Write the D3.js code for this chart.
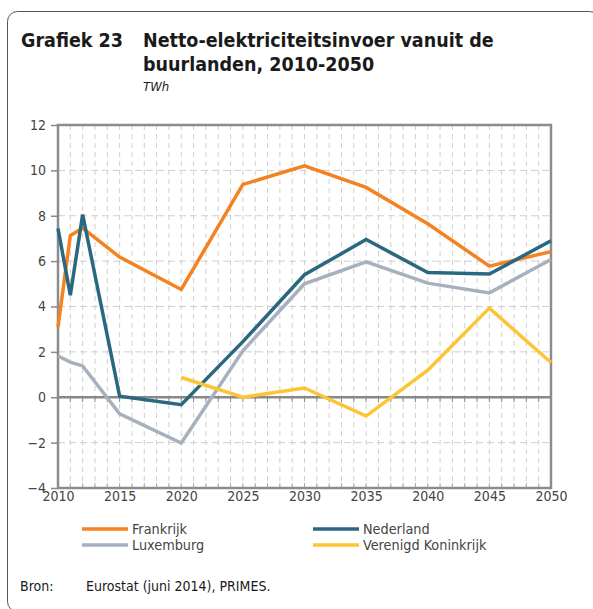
<!DOCTYPE html>
<html>
<head>
<meta charset="utf-8">
<script src="https://cdn.jsdelivr.net/npm/d3@7"></script>
<style>
  body { margin: 0; background: #fff; }
  text { font-family: "DejaVu Sans Condensed", "DejaVu Sans", sans-serif; fill: #333; }
</style>
</head>
<body>
<div id="chart"></div>
<script>
// data (TWh)
var years = [2010, 2011, 2012, 2015, 2020, 2025, 2030, 2035, 2040, 2045, 2050];
var frankrijk = [3.1, 7.13, 7.45, 6.18, 4.75, 9.38, 10.2, 9.25, 7.65, 5.78, 6.42];
var nederland = [7.44, 4.5, 8.05, 0.05, -0.33, 2.45, 5.4, 6.95, 5.5, 5.43, 6.9];
var luxemburg = [1.82, 1.55, 1.38, -0.73, -2.02, 2.05, 5.0, 5.97, 5.03, 4.6, 6.07];
var vkYears = [2020, 2025, 2030, 2035, 2040, 2045, 2050];
var verenigdKoninkrijk = [0.87, 0.0, 0.41, -0.83, 1.19, 3.93, 1.53];
var yTicks = [-4, -2, 0, 2, 4, 6, 8, 10, 12];
var xTicks = [2010, 2015, 2020, 2025, 2030, 2035, 2040, 2045, 2050];

var series = [
  { name: "Frankrijk", x: years, y: frankrijk, color: "#f58220" },
  { name: "Luxemburg", x: years, y: luxemburg, color: "#a7b1be" },
  { name: "Nederland", x: years, y: nederland, color: "#2a6880" },
  { name: "Verenigd Koninkrijk", x: vkYears, y: verenigdKoninkrijk, color: "#fdc533" }
];

var width = 593, height = 609;
var svg = d3.select("#chart").append("svg")
  .attr("width", width).attr("height", height);

// outer frame (right and bottom edges fall outside the picture)
svg.append("rect")
  .attr("x", 7.5).attr("y", 11.5)
  .attr("width", 592).attr("height", 600)
  .attr("rx", 10)
  .attr("fill", "none").attr("stroke", "#555").attr("stroke-width", 1);

// titles
var titleStyle = sel => sel.style("font-size", "19.5px").style("font-weight", "bold").style("fill", "#1a1a1a");
svg.append("text").attr("x", 21).attr("y", 47).call(titleStyle).text("Grafiek 23");
svg.append("text").attr("x", 143).attr("y", 47).call(titleStyle).text("Netto-elektriciteitsinvoer vanuit de");
svg.append("text").attr("x", 143).attr("y", 71).call(titleStyle).text("buurlanden, 2010-2050");
svg.append("text").attr("x", 143).attr("y", 91)
  .style("font-size", "13px").style("font-style", "italic").style("fill", "#1a1a1a")
  .text("TWh");

var x = d3.scaleLinear().domain([2010, 2050]).range([58, 551]);
var y = d3.scaleLinear().domain([-4, 12]).range([488, 125]);

// grid
var grid = svg.append("g");
grid.selectAll("line.v")
  .data(d3.range(2011, 2050))
  .join("line")
  .attr("x1", d => x(d)).attr("x2", d => x(d))
  .attr("y1", y(12)).attr("y2", y(-4))
  .attr("stroke", "#cfcfcf").attr("stroke-width", 1)
  .attr("stroke-dasharray", "5,4");
grid.selectAll("line.h")
  .data(yTicks.filter(d => d != 0 && d != 12 && d != -4))
  .join("line")
  .attr("x1", x(2010)).attr("x2", x(2050))
  .attr("y1", d => y(d)).attr("y2", d => y(d))
  .attr("stroke", "#cfcfcf").attr("stroke-width", 1)
  .attr("stroke-dasharray", "7,4");

// ticks on zero line and bottom edge
svg.append("g").selectAll("line")
  .data(d3.range(2011, 2050))
  .join("line")
  .attr("x1", d => x(d)).attr("x2", d => x(d))
  .attr("y1", y(0)).attr("y2", y(0) + 5)
  .attr("stroke", "#888").attr("stroke-width", 1);
svg.append("g").selectAll("line")
  .data(d3.range(2011, 2050))
  .join("line")
  .attr("x1", d => x(d)).attr("x2", d => x(d))
  .attr("y1", y(-4)).attr("y2", y(-4) - 5)
  .attr("stroke", "#aaa").attr("stroke-width", 1);

// zero line
svg.append("line")
  .attr("x1", x(2010)).attr("x2", x(2050))
  .attr("y1", y(0)).attr("y2", y(0))
  .attr("stroke", "#888").attr("stroke-width", 2.5);

// frame of plot
svg.append("rect")
  .attr("x", x(2010)).attr("y", y(12))
  .attr("width", x(2050) - x(2010)).attr("height", y(-4) - y(12))
  .attr("fill", "none").attr("stroke", "#8c8c8c").attr("stroke-width", 2.5);

// axes labels
var yAxis = svg.append("g")
  .attr("transform", `translate(${x(2010)},0)`)
  .call(d3.axisLeft(y).tickValues(yTicks).tickSize(7).tickPadding(5));
yAxis.select(".domain").remove();
yAxis.selectAll("line").attr("stroke", "#888").attr("stroke-width", 1.5);
yAxis.selectAll("text").style("font-size", "14px").style("fill", "#444")
  .style("font-family", "'DejaVu Sans Condensed', sans-serif");

var xAxis = svg.append("g")
  .attr("transform", `translate(0,${y(-4)})`)
  .call(d3.axisBottom(x).tickValues(xTicks).tickFormat(d3.format("d")).tickSize(0).tickPadding(3));
xAxis.select(".domain").remove();
xAxis.selectAll("text").style("font-size", "14px").style("fill", "#444")
  .style("font-family", "'DejaVu Sans Condensed', sans-serif");

// lines
var line = d3.line().x(d => x(d[0])).y(d => y(d[1]));
svg.append("g").selectAll("path")
  .data(series)
  .join("path")
  .attr("d", s => line(s.x.map((v, i) => [v, s.y[i]])))
  .attr("fill", "none")
  .attr("stroke", s => s.color)
  .attr("stroke-width", 3.5)
  .attr("stroke-linejoin", "miter");

// legend
var legendItems = [
  { s: series[0], lx: 82, ly: 529 },
  { s: series[2], lx: 313, ly: 529 },
  { s: series[1], lx: 82, ly: 545 },
  { s: series[3], lx: 313, ly: 545 }
];
var lg = svg.append("g").selectAll("g").data(legendItems).join("g");
lg.append("line")
  .attr("x1", d => d.lx).attr("x2", d => d.lx + 46)
  .attr("y1", d => d.ly).attr("y2", d => d.ly)
  .attr("stroke", d => d.s.color).attr("stroke-width", 3.5);
lg.append("text")
  .attr("x", d => d.lx + 50).attr("y", d => d.ly + 5)
  .style("font-size", "14.3px").style("fill", "#444")
  .text(d => d.s.name);

// source
svg.append("text").attr("x", 20).attr("y", 591)
  .style("font-size", "14px").style("fill", "#1a1a1a").text("Bron:");
svg.append("text").attr("x", 86).attr("y", 591)
  .style("font-size", "14px").style("fill", "#1a1a1a").text("Eurostat (juni 2014), PRIMES.");
</script>
</body>
</html>
